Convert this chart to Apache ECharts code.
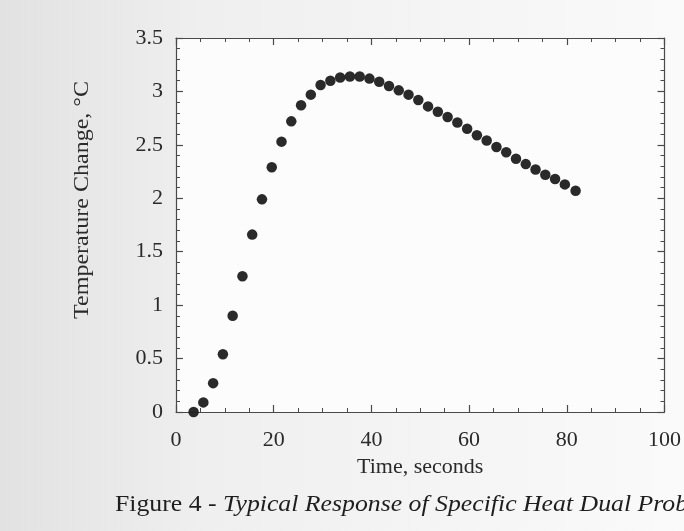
<!DOCTYPE html>
<html>
<head>
<meta charset="utf-8">
<script src="https://cdn.jsdelivr.net/npm/echarts@6/dist/echarts.min.js"></script>
<style>html,body{margin:0;padding:0;background:#f3f3f3;}#c{width:684px;height:531px;}</style>
</head>
<body>
<div id="c"></div>
<script>
// Data
var timeSeconds = [3.6, 5.6, 7.6, 9.6, 11.6, 13.6, 15.6, 17.6, 19.6, 21.6,
  23.6, 25.6, 27.6, 29.6, 31.6, 33.6, 35.6, 37.6, 39.6, 41.6,
  43.6, 45.6, 47.6, 49.6, 51.6, 53.6, 55.6, 57.6, 59.6, 61.6,
  63.6, 65.6, 67.6, 69.6, 71.6, 73.6, 75.6, 77.6, 79.6, 81.8];
var tempChange = [0.00, 0.09, 0.27, 0.54, 0.90, 1.27, 1.66, 1.99, 2.29, 2.53,
  2.72, 2.87, 2.97, 3.06, 3.10, 3.13, 3.14, 3.14, 3.12, 3.09,
  3.05, 3.01, 2.97, 2.92, 2.86, 2.81, 2.76, 2.71, 2.65, 2.59,
  2.54, 2.48, 2.43, 2.37, 2.32, 2.27, 2.22, 2.18, 2.13, 2.07];
var xTicks = [0, 20, 40, 60, 80, 100];
var yTicks = [0, 0.5, 1, 1.5, 2, 2.5, 3, 3.5];
var xTitle = 'Time, seconds';
var yTitle = 'Temperature Change, \u00B0C';
var captionLead = 'Figure 4 - ';
var captionItalic = 'Typical Response of Specific Heat Dual Prob';

var points = timeSeconds.map(function (t, i) { return [t, tempChange[i]]; });
var FONT = '"Liberation Serif", "DejaVu Serif", serif';
var axisCol = '#4a4a4a';
var txtCol = '#2a2a2a';

function axisCommon(showLabel, isX) {
  return {
    axisLine: { show: true, onZero: false, lineStyle: { color: axisCol, width: 1.2 } },
    axisTick: { show: true, inside: true, length: 7, lineStyle: { color: axisCol, width: 1.2 } },
    minorTick: { show: true, splitNumber: isX ? 4 : 5, length: 4, lineStyle: { color: axisCol, width: 1 } },
    splitLine: { show: false },
    minorSplitLine: { show: false },
    axisLabel: {
      show: showLabel, color: txtCol, fontFamily: FONT, fontSize: 22,
      margin: isX ? 17 : 13,
      formatter: function (v) { return String(v); }
    }
  };
}

var chart = echarts.init(document.getElementById('c'));
chart.setOption({
  backgroundColor: {
    type: 'linear', x: 0, y: 0, x2: 1, y2: 0,
    colorStops: [{ offset: 0, color: '#e2e2e2' }, { offset: 0.3, color: '#efefef' }, { offset: 1, color: '#fafafa' }]
  },
  animation: false,
  grid: { left: 176, right: 17, top: 38, bottom: 119, show: true, backgroundColor: '#fcfcfc', borderWidth: 0 },
  xAxis: [
    Object.assign({ type: 'value', min: xTicks[0], max: xTicks[xTicks.length - 1], interval: xTicks[1] - xTicks[0], position: 'bottom',
      name: xTitle, nameLocation: 'middle', nameGap: 43,
      nameTextStyle: { color: txtCol, fontFamily: FONT, fontSize: 22 } }, axisCommon(true, true)),
    Object.assign({ type: 'value', min: xTicks[0], max: xTicks[xTicks.length - 1], interval: xTicks[1] - xTicks[0], position: 'top' }, axisCommon(false, true))
  ],
  yAxis: [
    Object.assign({ type: 'value', min: yTicks[0], max: yTicks[yTicks.length - 1], interval: yTicks[1] - yTicks[0], position: 'left' }, axisCommon(true, false)),
    Object.assign({ type: 'value', min: yTicks[0], max: yTicks[yTicks.length - 1], interval: yTicks[1] - yTicks[0], position: 'right' }, axisCommon(false, false))
  ],
  graphic: [
    {
      type: 'text', x: 83, y: 200, rotation: Math.PI / 2, scaleX: 1.2,
      style: { text: yTitle, fill: txtCol, font: '20px ' + FONT, align: 'center', verticalAlign: 'middle' }
    },
    {
      type: 'text', x: 115, y: 505, scaleX: 1.12,
      style: {
        text: '{r|' + captionLead + '}{i|' + captionItalic + '}',
        verticalAlign: 'middle',
        rich: {
          r: { fontFamily: FONT, fontSize: 23, fill: '#1e1e1e' },
          i: { fontFamily: FONT, fontSize: 23, fontStyle: 'italic', fill: '#1e1e1e' }
        }
      }
    }
  ],
  series: [{
    type: 'scatter', xAxisIndex: 0, yAxisIndex: 0,
    data: points, symbol: 'circle', symbolSize: 10.5,
    itemStyle: { color: '#1f1f1f', opacity: 0.95 }
  }]
});
</script>
</body>
</html>
